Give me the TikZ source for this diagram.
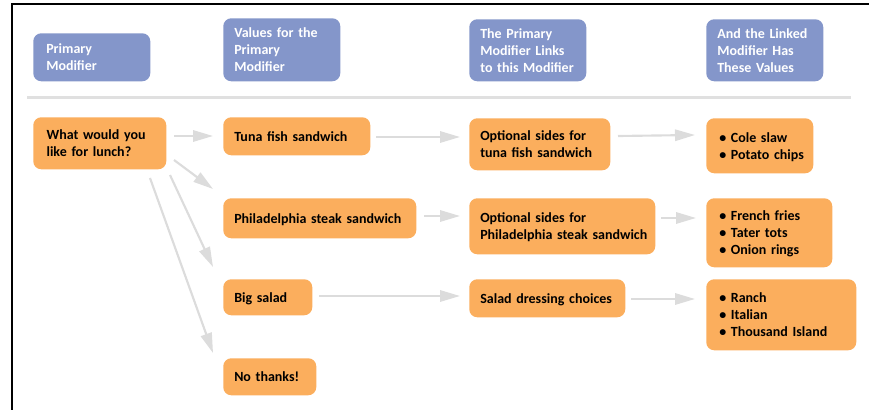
\documentclass[tikz,border=0pt]{standalone}
\usepackage{fontspec}
\setmainfont{Carlito}
\usetikzlibrary{arrows.meta,calc}
\definecolor{hblue}{RGB}{132,150,202}
\definecolor{borange}{RGB}{251,174,93}
\definecolor{agray}{RGB}{220,220,220}
\definecolor{sgray}{RGB}{224,224,224}
\newcommand\mylines[1]{\raisebox{-1.3pt}[\height][\depth]{\begin{tabular}{@{}l@{}}#1\end{tabular}}}
\newcommand\myfont{\fontsize{10.5}{12.75}\selectfont\bfseries}
\tikzset{
  basebox/.style={rounded corners=6pt, anchor=north west, inner xsep=8.25pt, inner ysep=0pt, align=left, font=\myfont},
  hbox/.style={basebox, fill=hblue, text=white},
  obox/.style={basebox, fill=borange, text=black},
  arr/.style={draw=agray, line width=1.6pt, -{Triangle[length=15pt,width=8.5pt]}},
}
\begin{document}
\begin{tikzpicture}[x=0.75pt,y=-0.75pt]
\useasboundingbox (0,0) rectangle (869,410);
\draw[line width=1.5pt] (12,410) -- (12,4) -- (869,4);
\draw[sgray, line width=1.6pt] (27,97.5) -- (851,97.5);

% headers
\node[hbox, text width=71.25pt, minimum height=36pt, inner xsep=9.75pt, text width=68.25pt] (h1) at (33,33) {\mylines{Primary\\Modifier}};
\node[hbox, text width=71.25pt, minimum height=47.25pt] (h2) at (223,18) {\mylines{Values for the\\Primary\\Modifier}};
\node[hbox, text width=71.25pt, minimum height=46.5pt] (h3) at (469,19) {\mylines{The Primary\\Modifier Links\\to this Modifier}};
\node[hbox, text width=71.25pt, minimum height=46.5pt] (h4) at (706,19) {\mylines{And the Linked\\Modifier Has\\These Values}};

% orange boxes
\node[obox, text width=79.75pt, minimum height=39pt, inner xsep=10pt] (lunch) at (33,117) {\mylines{What would you\\like for lunch?}};
\node[obox, text width=93.75pt, minimum height=28.5pt] (tuna) at (223,117) {\mylines{Tuna fish sandwich}};
\node[obox, text width=128.25pt, minimum height=30pt] (philly) at (223,198) {\mylines{Philadelphia steak sandwich}};
\node[obox, text width=50.25pt, minimum height=27pt] (salad) at (223,279) {\mylines{Big salad}};
\node[obox, text width=53.25pt, minimum height=27.75pt] (nothanks) at (223,358) {\mylines{No thanks!}};

\node[obox, text width=89.25pt, minimum height=39pt] (opttuna) at (469,118) {\mylines{Optional sides for\\tuna fish sandwich}};
\node[obox, text width=123pt, minimum height=42pt] (optphilly) at (469,198) {\mylines{Optional sides for\\Philadelphia steak sandwich}};
\node[obox, text width=100.5pt, minimum height=28.5pt] (dressing) at (469,279) {\mylines{Salad dressing choices}};

\node[obox, text width=60.75pt, minimum height=41.25pt, inner xsep=9.75pt] (cole) at (706,118) {\mylines{\textbullet\ Cole slaw\\\textbullet\ Potato chips}};
\node[obox, text width=75pt, minimum height=51.75pt, inner xsep=9.75pt] (french) at (706,198) {\mylines{\textbullet\ French fries\\\textbullet\ Tater tots\\\textbullet\ Onion rings}};
\node[obox, text width=93pt, minimum height=53.25pt, inner xsep=9.75pt] (ranch) at (706,279) {\mylines{\textbullet\ Ranch\\\textbullet\ Italian\\\textbullet\ Thousand Island}};

% arrows
\draw[arr] ($(lunch.north west)+(141,19)$) -- ($(tuna.north west)+(-10,19)$);
\draw[arr] ($(lunch.north west)+(141,43)$) -- ($(philly.north west)+(-10,-9)$);
\draw[arr] ($(lunch.north west)+(137,58)$) -- ($(salad.north west)+(-10,-12)$);
\draw[arr] ($(lunch.north west)+(117,61)$) -- ($(nothanks.north west)+(-10,-5)$);
\draw[arr] ($(tuna.north west)+(153,20)$) -- ($(opttuna.north west)+(-9,19)$);
\draw[arr] ($(philly.north west)+(201,18)$) -- ($(optphilly.north west)+(-9,18)$);
\draw[arr] ($(salad.north west)+(96,17)$) -- ($(dressing.north west)+(-9,17)$);
\draw[arr] ($(opttuna.north west)+(149,18)$) -- ($(cole.north west)+(-11,17)$);
\draw[arr] ($(optphilly.north west)+(192,20)$) -- ($(french.north west)+(-10,20)$);
\draw[arr] ($(dressing.north west)+(162,20)$) -- ($(ranch.north west)+(-11,20)$);
\end{tikzpicture}
\end{document}
